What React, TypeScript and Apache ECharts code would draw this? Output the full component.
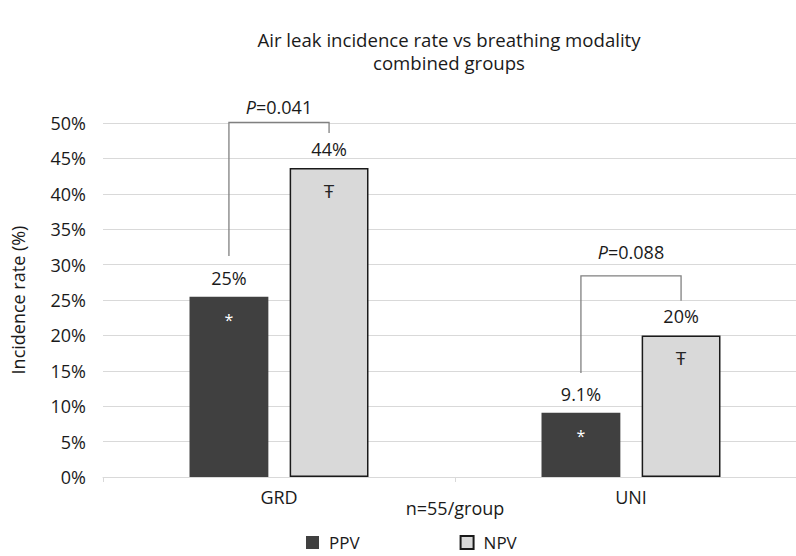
import React, { useEffect, useRef } from "react";
import * as echarts from "echarts";

const categories = ["GRD", "UNI"];
const ppvValues = [25.45, 9.09];
const npvValues = [43.64, 20.0];
const ppvLabels = ["25%", "9.1%"];
const npvLabels = ["44%", "20%"];
const ppvMarks = ["*", "*"];
const npvMarks = ["Ŧ", "Ŧ"];
const yTicks = [0, 5, 10, 15, 20, 25, 30, 35, 40, 45, 50];
// [categoryIndex, bracketTop, leftLegBottom, rightLegBottom, textLevel]
const brackets = [
  [0, 50.1, 31.2, 48.6, 52.3],
  [1, 28.4, 14.7, 24.9, 31.8],
];
const pTexts = ["0.041", "0.088"];

const FONT = "'Open Sans', 'Noto Sans', sans-serif";
const TXT = "#1a1a1a";
const BAR_FRAC = 0.224;
const GAP_FRAC = 0.27;

export default function App() {
  const ref = useRef<HTMLDivElement>(null);
  useEffect(() => {
    if (!ref.current) return;
    const chart = echarts.init(ref.current, undefined, { renderer: "svg" });
    const labelRich = (color: string, size: number) => ({
      v: { fontSize: 18, fontFamily: FONT, color: TXT, lineHeight: 42 },
      s: { fontSize: size, fontFamily: FONT, color, lineHeight: 42 },
    });
    chart.setOption({
      animation: false,
      backgroundColor: "#ffffff",
      graphic: [
        {
          type: "text",
          x: 449,
          y: 51,
          style: {
            text: "Air leak incidence rate vs breathing modality\ncombined groups",
            font: `18.6px ${FONT}`,
            fill: TXT,
            align: "center",
            verticalAlign: "middle",
            lineHeight: 23,
          },
        },
      ],
      legend: {
        data: ["PPV", "NPV"],
        left: 306,
        top: 534,
        padding: 0,
        itemWidth: 13,
        itemHeight: 13,
        itemGap: 100,
        icon: "rect",
        textStyle: { fontSize: 17, lineHeight: 17, fontFamily: FONT, color: TXT, padding: [0, 0, 0, 5] },
      },
      grid: { left: 103, right: -11, top: 123, bottom: 79, containLabel: false, outerBoundsMode: "none" },
      xAxis: {
        type: "category",
        data: categories,
        name: "n=55/group",
        nameLocation: "middle",
        nameGap: 22,
        nameMoveOverlap: false,
        nameTextStyle: { fontSize: 18, fontFamily: FONT, color: TXT },
        axisLine: { show: true, lineStyle: { color: "#d9d9d9", width: 1 } },
        axisTick: { show: true, length: 5, lineStyle: { color: "#d9d9d9" } },
        axisLabel: { fontSize: 18, fontFamily: FONT, color: TXT, margin: 11 },
      },
      yAxis: {
        type: "value",
        min: yTicks[0],
        max: yTicks[yTicks.length - 1],
        interval: 5,
        name: "Incidence rate (%)",
        nameLocation: "middle",
        nameGap: 76,
        nameMoveOverlap: false,
        nameTextStyle: { fontSize: 18, fontFamily: FONT, color: TXT },
        axisLine: { show: false },
        axisTick: { show: false },
        axisLabel: { fontSize: 18, fontFamily: FONT, color: TXT, margin: 17, formatter: "{value}%" },
        splitLine: { lineStyle: { color: "#d9d9d9", width: 1 } },
      },
      series: [
        {
          name: "PPV",
          type: "bar",
          data: ppvValues,
          barWidth: `${BAR_FRAC * 100}%`,
          barGap: `${GAP_FRAC * 100}%`,
          itemStyle: { color: "#404040" },
          label: {
            show: true,
            position: "insideTop",
            distance: 0,
            offset: [0, -40],
            formatter: (p: any) => `{v|${ppvLabels[p.dataIndex]}}\n{s|${ppvMarks[p.dataIndex]}}`,
            rich: labelRich("#ffffff", 16),
          },
        },
        {
          name: "NPV",
          type: "bar",
          data: npvValues,
          barWidth: `${BAR_FRAC * 100}%`,
          barGap: `${GAP_FRAC * 100}%`,
          itemStyle: { color: "#d9d9d9", borderColor: "#1a1a1a", borderWidth: 1.5 },
          label: {
            show: true,
            position: "insideTop",
            distance: 0,
            offset: [0, -40],
            formatter: (p: any) => `{v|${npvLabels[p.dataIndex]}}\n{s|${npvMarks[p.dataIndex]}}`,
            rich: labelRich("#262626", 19),
          },
        },
        {
          type: "custom",
          name: "brackets",
          data: brackets,
          encode: { x: 0, y: 1 },
          clip: false,
          silent: true,
          z: 5,
          renderItem: (params: any, api: any) => {
            const cat = api.value(0);
            const cx = api.coord([cat, 0])[0];
            const band = api.size([1, 0])[0];
            const bw = band * BAR_FRAC;
            const off = (bw + bw * GAP_FRAC) / 2;
            const lx = cx - off;
            const rx = cx + off;
            const yt = api.coord([cat, api.value(1)])[1];
            const yl = api.coord([cat, api.value(2)])[1];
            const yr = api.coord([cat, api.value(3)])[1];
            const ytext = api.coord([cat, api.value(4)])[1];
            return {
              type: "group",
              children: [
                {
                  type: "polyline",
                  shape: { points: [[lx, yl], [lx, yt], [rx, yt], [rx, yr]] },
                  style: { stroke: "#808080", lineWidth: 1.3, fill: null },
                },
                {
                  type: "text",
                  x: cx,
                  y: ytext,
                  style: {
                    text: `{i|P}{n|=${pTexts[params.dataIndex]}}`,
                    align: "center",
                    verticalAlign: "middle",
                    rich: {
                      i: { fontSize: 18, fontFamily: FONT, fontStyle: "italic", fill: TXT, color: TXT },
                      n: { fontSize: 18, fontFamily: FONT, fill: TXT, color: TXT },
                    },
                  },
                },
              ],
            };
          },
        },
      ],
    });
    return () => chart.dispose();
  }, []);
  return <div ref={ref} style={{ width: 796, height: 556, position: "absolute", left: 0, top: 0 }} />;
}
